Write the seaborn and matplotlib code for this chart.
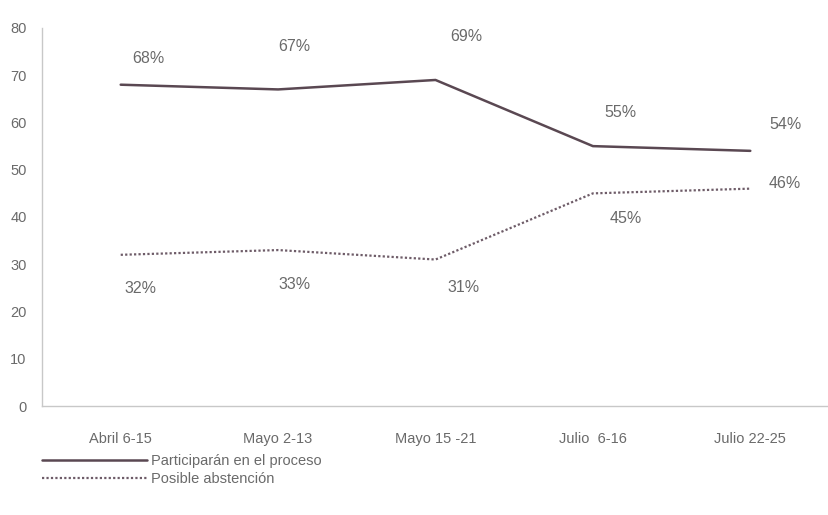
import matplotlib
matplotlib.use("Agg")
import matplotlib.pyplot as plt
import seaborn as sns
import pandas as pd
from matplotlib.lines import Line2D
from matplotlib import font_manager

categories = ["Abril 6-15", "Mayo 2-13", "Mayo 15 -21", "Julio  6-16", "Julio 22-25"]
participaran = [68, 67, 69, 55, 54]
abstencion = [32, 33, 31, 45, 46]
series_names = ["Participarán en el proceso", "Posible abstención"]
yticks = [0, 10, 20, 30, 40, 50, 60, 70, 80]

sns.set_style("white")
names = {f.name for f in font_manager.fontManager.ttflist}
fam = "Liberation Sans Narrow" if "Liberation Sans Narrow" in names else "Liberation Sans"
plt.rcParams["font.family"] = [fam, "DejaVu Sans"]

txt = "#6a6a6a"
c1 = "#5a4852"
c2 = "#6e5c68"

df = pd.DataFrame({"cat": categories * 2,
                   "val": participaran + abstencion,
                   "serie": [series_names[0]] * 5 + [series_names[1]] * 5})

fig = plt.figure(figsize=(8.29, 5.15), dpi=100)
ax = fig.add_axes([42 / 829, 1 - 406 / 515, 1 - 42 / 829, (406 - 28) / 515])

sns.lineplot(data=df[df.serie == series_names[0]], x="cat", y="val", ax=ax,
             color=c1, linewidth=1.8, sort=False, legend=False)
sns.lineplot(data=df[df.serie == series_names[1]], x="cat", y="val", ax=ax,
             color=c2, linewidth=1.6, linestyle=(0, (1, 1)), sort=False, legend=False)

ax.set_xlim(-0.5, 4.5)
ax.set_ylim(0, 80)
ax.set_yticks(yticks)
ax.set_yticklabels([str(v) for v in yticks])
ax.set_xticks(range(len(categories)))
ax.set_xticklabels(categories)
ax.set_xticks([0.5, 1.5, 2.5, 3.5], minor=True)
ax.tick_params(axis="x", which="major", length=0, pad=19, labelsize=10.5, labelcolor=txt)
ax.tick_params(axis="x", which="minor", length=3, direction="in", color="#bbbbbb")
ax.tick_params(axis="y", length=3, direction="out", color="#bbbbbb", pad=8,
               labelsize=10.5, labelcolor=txt)
ax.set_xlabel("")
ax.set_ylabel("")
for s in ["top", "right"]:
    ax.spines[s].set_visible(False)
for s in ["left", "bottom"]:
    ax.spines[s].set_color("#c8c8c8")
    ax.spines[s].set_linewidth(1.0)

off1 = [(20, 19), (12, 31), (22, 31), (20, 24), (25, 19)]
off2 = [(14, -24), (12, -25), (20, -20), (24, -18), (25, 4)]
for i, v in enumerate(participaran):
    ax.annotate(f"{v}%", (i, v), xytext=off1[i], textcoords="offset points",
                ha="center", va="center", fontsize=11.5, color=txt)
for i, v in enumerate(abstencion):
    ax.annotate(f"{v}%", (i, v), xytext=off2[i], textcoords="offset points",
                ha="center", va="center", fontsize=11.5, color=txt)

handles = [Line2D([], [], color=c1, linewidth=1.8),
           Line2D([], [], color=c2, linewidth=1.6, linestyle=(0, (1, 1)))]
fig.legend(handles, series_names, loc="upper left", bbox_to_anchor=(42 / 829, 1 - 454 / 515),
           frameon=False, fontsize=10.5, handlelength=7.2, handletextpad=0.3,
           labelspacing=0.25, borderaxespad=0, borderpad=0, labelcolor=txt)

fig.savefig("out.png", dpi=100, facecolor="white")
